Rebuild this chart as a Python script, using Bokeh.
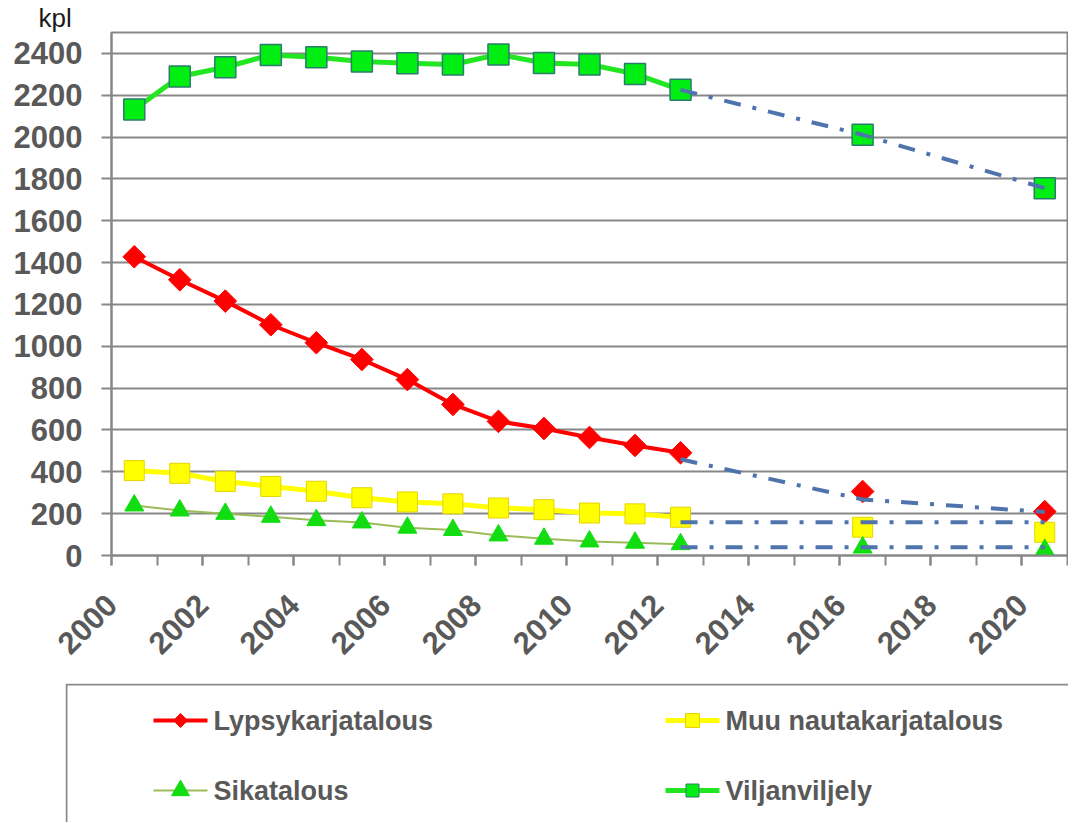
import math
from bokeh.plotting import figure
from bokeh.models import Range1d, FixedTicker, Spacer
from bokeh.layouts import column, row
from bokeh.embed import file_html
from bokeh.resources import INLINE
from bokeh.core.properties import value

# ---------------- data ----------------
years = list(range(2000, 2013))
proj_years = [2016, 2020]
trend_years = [2012, 2016, 2020]

lypsy = [1428, 1318, 1216, 1103, 1017, 937, 841, 722, 641, 607, 564, 526, 491]
lypsy_proj = [306, 210]
lypsy_trend = [460, 268, 208]

muu = [406, 393, 354, 330, 307, 276, 256, 247, 227, 219, 203, 199, 183]
muu_proj = [135, 111]
muu_trend = [159, 159, 159]

sika = [239, 215, 199, 185, 169, 158, 133, 122, 96, 80, 67, 61, 54]
sika_proj = [38, 27]
sika_trend = [40, 40, 40]

vilja = [2132, 2290, 2334, 2393, 2382, 2361, 2353, 2347, 2395, 2354, 2347, 2302, 2226]
vilja_proj = [2011, 1756]
vilja_trend = [2226, 2011, 1756]

series_names = ["Lypsykarjatalous", "Muu nautakarjatalous", "Sikatalous", "Viljanviljely"]
x_label_years = list(range(2000, 2021, 2))
x_tick_labels = [str(y) for y in x_label_years]
y_ticks = list(range(0, 2401, 200))
unit_label = "kpl"

# ---------------- styles ----------------
FONT = "Liberation Sans"
LABEL_COLOR = "#595959"
GRID = "#878787"
TREND = "#4f74ad"
TREND_DASH = "17 12 4 12"

RED = "#ff0000"
YEL = "#ffff00"
YEL_EDGE = "#e3d400"
GRN_FILL = "#00ee11"
GRN_EDGE = "#2b7c6c"
GRN_LINE = "#22e622"
TRI_FILL = "#11dd11"
SIKA_LINE = "#9bbb59"


def centers(ys):
    return [y + 0.5 for y in ys]


p = figure(width=1068, height=683,
           x_range=Range1d(2000, 2021), y_range=Range1d(0, 2500),
           output_backend="svg", toolbar_location=None,
           min_border_left=111, min_border_right=1,
           min_border_top=32, min_border_bottom=128)
p.outline_line_color = GRID
p.outline_line_width = 2
p.background_fill_color = "white"
p.border_fill_color = "white"

p.title.text = unit_label
p.title.align = "left"
p.title.offset = -73
p.title.standoff = 0
p.title.text_font = FONT
p.title.text_font_style = "normal"
p.title.text_font_size = "26px"
p.title.text_color = "#1a1a1a"

p.xgrid.visible = False
p.ygrid.ticker = FixedTicker(ticks=y_ticks)
p.ygrid.grid_line_color = GRID
p.ygrid.grid_line_width = 2

xa = p.xaxis[0]
xa.ticker = FixedTicker(ticks=x_label_years, minor_ticks=list(range(2000, 2022)))
xa.major_label_overrides = {v: s for v, s in zip(x_label_years, x_tick_labels)}
xa.major_label_orientation = math.pi / 4
xa.major_tick_line_color = GRID
xa.major_tick_line_width = 2
xa.major_tick_out = 10
xa.major_tick_in = 0
xa.minor_tick_out = 10
xa.minor_tick_in = 0
xa.minor_tick_line_color = GRID
xa.minor_tick_line_width = 2
xa.major_label_standoff = 34

ya = p.yaxis[0]
ya.ticker = FixedTicker(ticks=y_ticks)
ya.major_tick_out = 10
ya.major_tick_in = 0
ya.major_tick_line_color = GRID
ya.major_tick_line_width = 2
ya.minor_tick_line_color = None
ya.major_label_standoff = 19

for ax in (xa, ya):
    ax.axis_line_color = GRID
    ax.axis_line_width = 2
    ax.major_label_text_font = FONT
    ax.major_label_text_font_style = "bold"
    ax.major_label_text_font_size = "31px"
    ax.major_label_text_color = LABEL_COLOR

cx = centers(years)
px = centers(proj_years)
tx = centers(trend_years)

# Lypsykarjatalous
p.line(cx, lypsy, line_color=RED, line_width=4)
p.scatter(cx + px, lypsy + lypsy_proj, marker="square", angle=math.pi / 4, size=16,
          fill_color=RED, line_color=RED)
# Muu nautakarjatalous
p.line(cx, muu, line_color=YEL, line_width=5)
p.scatter(cx + px, muu + muu_proj, marker="square", size=20,
          fill_color=YEL, line_color=YEL_EDGE, line_width=1)
# Sikatalous
p.line(cx, sika, line_color=SIKA_LINE, line_width=2)
p.scatter(cx + px, sika + sika_proj, marker="triangle", size=19,
          fill_color=TRI_FILL, line_color=TRI_FILL)
# Viljanviljely
p.line(cx, vilja, line_color=GRN_LINE, line_width=5)
p.scatter(cx + px, vilja + vilja_proj, marker="square", size=21,
          fill_color=GRN_FILL, line_color=GRN_EDGE, line_width=1.5)

# projections (dash-dot)
for tr in (lypsy_trend, muu_trend, sika_trend, vilja_trend):
    p.line(tx, tr, line_color=TREND, line_width=4, line_dash=TREND_DASH)

# ---------------- legend panel ----------------
LG_W, LG_H = 1003, 139
lg = figure(width=LG_W, height=LG_H, x_range=Range1d(0, LG_W), y_range=Range1d(0, LG_H),
            output_backend="svg", toolbar_location=None, min_border=0,
            x_axis_type=None, y_axis_type=None)
lg.outline_line_color = None
lg.grid.visible = False
lg.quad(left=1, right=LG_W + 100, bottom=-50, top=LG_H - 1, fill_color=None,
        line_color="#8a8a8a", line_width=2)

legend_style = [
    dict(color=RED, marker="square", angle=math.pi / 4, size=10, fill=RED, edge=RED, lw=4),
    dict(color=YEL, marker="square", angle=0, size=14, fill=YEL, edge=YEL_EDGE, lw=5),
    dict(color=SIKA_LINE, marker="triangle", angle=0, size=18, fill=TRI_FILL, edge=TRI_FILL, lw=2),
    dict(color=GRN_LINE, marker="square", angle=0, size=13, fill=GRN_FILL, edge=GRN_EDGE, lw=5),
]
row1_y, row2_y = LG_H - 37, LG_H - 107
legend_pos = [(88, row1_y), (600, row1_y), (88, row2_y), (600, row2_y)]

for name, st, (x0, yy) in zip(series_names, legend_style, legend_pos):
    lg.line([x0, x0 + 54], [yy, yy], line_color=st["color"], line_width=st["lw"])
    lg.scatter([x0 + 27], [yy], marker=st["marker"], angle=st["angle"], size=st["size"],
               fill_color=st["fill"], line_color=st["edge"])
    lg.text([x0 + 60], [yy], text=[name], text_font=value(FONT), text_font_style="bold",
            text_font_size="27px", text_color=LABEL_COLOR, text_baseline="middle",
            text_align="left")

layout = column(p, row(Spacer(width=65, height=LG_H), lg))
open("out.html", "w").write(file_html(layout, INLINE))
